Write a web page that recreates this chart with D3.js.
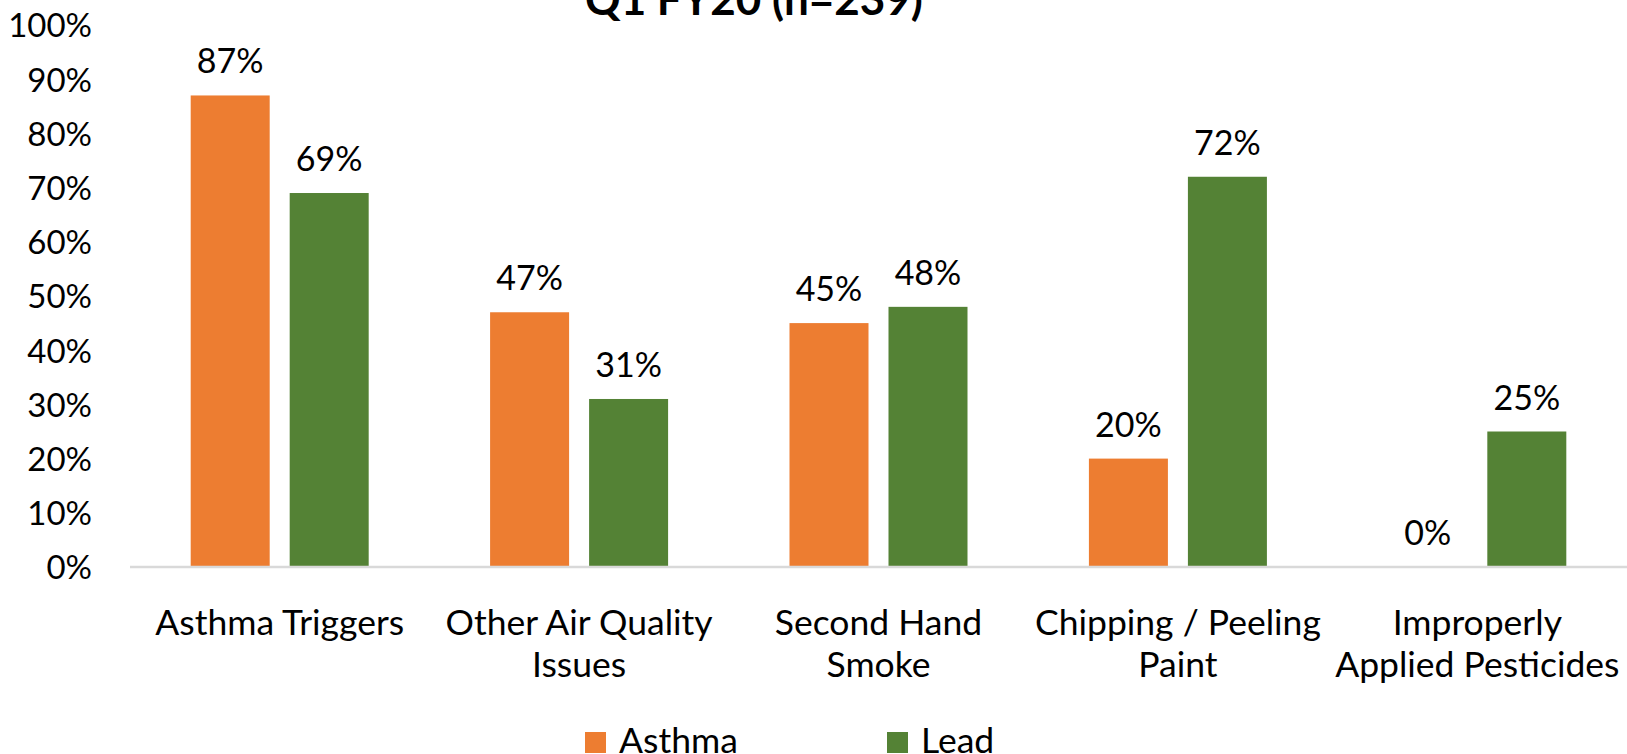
<!DOCTYPE html>
<html>
<head>
<meta charset="utf-8">
<script src="https://cdn.jsdelivr.net/npm/d3@7"></script>
<style>
  html, body { margin: 0; padding: 0; background: #fff; }
  svg { display: block; }
  text { font-family: Lato, "Open Sans", sans-serif; fill: #000; }
</style>
</head>
<body>
<script>
// Categories (each entry split into the lines it is drawn on)
const categories = [
  "Asthma Triggers",
  "Other Air Quality Issues",
  "Second Hand Smoke",
  "Chipping / Peeling Paint",
  "Improperly Applied Pesticides"
];
const categoryLines = [
  ["Asthma Triggers"],
  ["Other Air Quality", "Issues"],
  ["Second Hand", "Smoke"],
  ["Chipping / Peeling", "Paint"],
  ["Improperly", "Applied Pesticides"]
];
const seriesNames = ["Asthma", "Lead"];
const asthmaValues = [87, 47, 45, 20, 0];
const leadValues = [69, 31, 48, 72, 25];
const yTicks = [0, 10, 20, 30, 40, 50, 60, 70, 80, 90, 100];
const title = "Q1 FY20 (n=239)";
const colors = { Asthma: "#ED7D31", Lead: "#548235" };

const W = 1627, H = 754;
const plot = { left: 130, right: 1627, top: 25, bottom: 567 };

const rows = categories.map((c, i) => ({
  category: c,
  lines: categoryLines[i],
  values: [
    { series: "Asthma", value: asthmaValues[i] },
    { series: "Lead", value: leadValues[i] }
  ]
}));

const svg = d3.select("body").append("svg")
  .attr("width", W).attr("height", H);

const x0 = d3.scaleBand()
  .domain(categories)
  .range([plot.left, plot.right])
  .paddingInner(0.4055)
  .paddingOuter(0.2027);

const x1 = d3.scaleBand()
  .domain(seriesNames)
  .range([0, x0.bandwidth()])
  .paddingInner(0.202)
  .paddingOuter(0);

const y = d3.scaleLinear().domain([0, 100]).range([plot.bottom, plot.top]);

// Title (sits partly above the top edge)
svg.append("text")
  .attr("x", 754).attr("y", 15)
  .attr("text-anchor", "middle")
  .style("font-size", "44px")
  .style("font-weight", "bold")
  .text(title);

// Y axis labels
const yAxis = d3.axisLeft(y)
  .tickValues(yTicks)
  .tickFormat(d => d + "%")
  .tickSize(0)
  .tickPadding(0);
const yg = svg.append("g")
  .attr("transform", `translate(92,0)`)
  .call(yAxis);
yg.select(".domain").remove();
yg.selectAll("text")
  .attr("fill", "#000")
  .style("font-family", "Lato, sans-serif")
  .style("font-size", "33px")
  .attr("dy", "0.36em");

// Bars
const groups = svg.append("g").selectAll("g")
  .data(rows)
  .join("g")
  .attr("transform", d => `translate(${x0(d.category)},0)`);

groups.selectAll("rect")
  .data(d => d.values)
  .join("rect")
  .attr("x", d => x1(d.series))
  .attr("width", x1.bandwidth())
  .attr("y", d => y(d.value))
  .attr("height", d => y(0) - y(d.value))
  .attr("fill", d => colors[d.series]);

// Value labels
groups.selectAll("text.val")
  .data(d => d.values)
  .join("text")
  .attr("class", "val")
  .attr("x", d => x1(d.series) + x1.bandwidth() / 2)
  .attr("y", d => y(d.value) - 22)
  .attr("text-anchor", "middle")
  .style("font-size", "34px")
  .text(d => d.value + "%");

// X axis line
const xAxis = d3.axisBottom(x0).tickSize(0).tickFormat("");
const xg = svg.append("g")
  .attr("transform", `translate(0,${plot.bottom})`)
  .call(xAxis);
xg.select(".domain")
  .attr("stroke", "#D9D9D9")
  .attr("stroke-width", 2.5)
  .attr("d", `M${plot.left},0H${plot.right}`);

// Category labels
const catLabels = svg.append("g").selectAll("text")
  .data(rows)
  .join("text")
  .attr("text-anchor", "middle")
  .attr("x", d => x0(d.category) + x0.bandwidth() / 2)
  .attr("y", 635)
  .style("font-size", "35.5px");
catLabels.selectAll("tspan")
  .data(d => d.lines.map((l, i) => ({ l, i, x: x0(d.category) + x0.bandwidth() / 2 })))
  .join("tspan")
  .attr("x", d => d.x)
  .attr("dy", d => d.i === 0 ? 0 : 41.5)
  .text(d => d.l);

// Legend
const legendItems = [
  { name: "Asthma", x: 585 },
  { name: "Lead", x: 887 }
];
const lg = svg.append("g").selectAll("g")
  .data(legendItems)
  .join("g")
  .attr("transform", d => `translate(${d.x},0)`);
lg.append("rect")
  .attr("x", 0).attr("y", 732)
  .attr("width", 21).attr("height", 21)
  .attr("fill", d => colors[d.name]);
lg.append("text")
  .attr("x", 34).attr("y", 753)
  .style("font-size", "35.5px")
  .text(d => d.name);
</script>
</body>
</html>
